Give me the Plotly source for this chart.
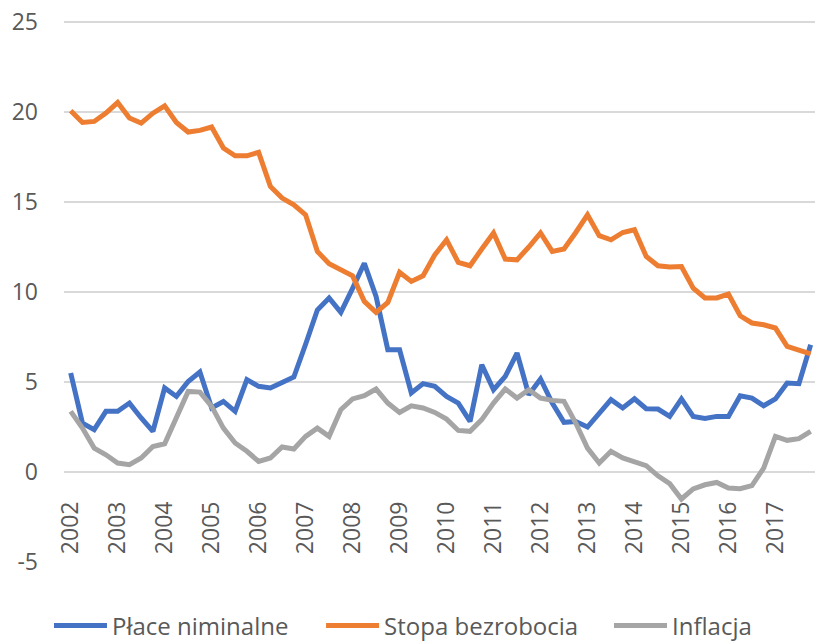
import plotly.graph_objects as go

years = [str(y) for y in range(2002, 2018)]
quarters = list(range(64))

place_nominalne = [5.5, 2.72, 2.35, 3.37, 3.37, 3.83, 3.0, 2.26,
                   4.67, 4.2, 5.03, 5.56, 3.56, 3.92, 3.37, 5.13,
                   4.76, 4.67, 4.98, 5.28, 7.1, 9.0, 9.67, 8.87,
                   10.2, 11.6, 9.76, 6.79, 6.79, 4.39, 4.91, 4.76,
                   4.2, 3.83, 2.81, 5.96, 4.57, 5.31, 6.61, 4.29,
                   5.17, 3.83, 2.76, 2.81, 2.5, 3.24, 4.02, 3.56,
                   4.07, 3.52, 3.5, 3.09, 4.06, 3.09, 2.98, 3.09,
                   3.09, 4.24, 4.11, 3.68, 4.06, 4.94, 4.91, 7.07]

stopa_bezrobocia = [20.07, 19.42, 19.48, 19.94, 20.53, 19.67, 19.39, 19.94,
                    20.35, 19.42, 18.89, 18.98, 19.17, 18.0, 17.57, 17.57,
                    17.76, 15.87, 15.22, 14.85, 14.29, 12.26, 11.57, 11.2,
                    10.9, 9.48, 8.87, 9.42, 11.1, 10.59, 10.9, 12.07,
                    12.9, 11.65, 11.46, 12.39, 13.28, 11.83, 11.79, 12.5,
                    13.28, 12.26, 12.39, 13.31, 14.29, 13.13, 12.9, 13.31,
                    13.46, 11.98, 11.46, 11.39, 11.42, 10.22, 9.67, 9.67,
                    9.89, 8.68, 8.28, 8.18, 8.0, 6.98, 6.76, 6.57]

inflacja = [3.37, 2.44, 1.33, 0.96, 0.5, 0.41, 0.78, 1.42,
            1.57, 3.09, 4.48, 4.44, 3.65, 2.44, 1.61, 1.15,
            0.59, 0.78, 1.39, 1.28, 1.98, 2.44, 1.98, 3.46,
            4.06, 4.24, 4.61, 3.83, 3.31, 3.68, 3.56, 3.31,
            2.94, 2.31, 2.26, 2.91, 3.83, 4.61, 4.11, 4.57,
            4.11, 3.98, 3.93, 2.72, 1.33, 0.5, 1.15, 0.78,
            0.59, 0.35, -0.21, -0.65, -1.5, -0.94, -0.71, -0.58,
            -0.89, -0.93, -0.76, 0.22, 1.98, 1.76, 1.85, 2.26]

tick_positions = quarters[::4]
y_ticks = [-5, 0, 5, 10, 15, 20, 25]
y_ticktext = ["-5", "0", "5", "10", "15", "20", "25"]

series = [
    ("Płace niminalne", place_nominalne, "#4472C4", "legend", -0.020),
    ("Stopa bezrobocia", stopa_bezrobocia, "#ED7D31", "legend2", 0.3423),
    ("Inflacja", inflacja, "#A5A5A5", "legend3", 0.7257),
]

FONT = "Open Sans"
TXT = "#595959"

fig = go.Figure()
legend_layouts = {}
for name, vals, color, leg, lx in series:
    fig.add_trace(go.Scatter(x=quarters, y=vals, mode="lines", name=name,
                             line=dict(color=color, width=5), legend=leg))
    legend_layouts[leg] = dict(orientation="h", x=lx, xanchor="left",
                               y=-0.1183, yanchor="middle",
                               font=dict(family=FONT, size=24, color=TXT),
                               itemwidth=53, bgcolor="rgba(0,0,0,0)")

fig.update_layout(
    width=815, height=643,
    margin=dict(l=64, r=0, t=21, b=81, autoexpand=False),
    plot_bgcolor="white", paper_bgcolor="white",
    font=dict(family=FONT, size=23, color=TXT),
    showlegend=True,
    xaxis=dict(range=[-0.57, 63.37], showgrid=False, zeroline=False, showline=False,
               tickmode="array", tickvals=tick_positions, ticktext=years,
               tickangle=-90, ticks="", anchor="free", position=5.06/30.06,
               ticklabelstandoff=25,
               tickfont=dict(family=FONT, size=23, color=TXT)),
    yaxis=dict(range=[-5, 25.06], tickmode="array", tickvals=y_ticks, ticktext=y_ticktext,
               showgrid=True, gridcolor="#D9D9D9", gridwidth=2,
               zeroline=True, zerolinecolor="#D9D9D9", zerolinewidth=2,
               showline=False, ticks="", ticklabelstandoff=25,
               ticklabeloverflow="allow",
               tickfont=dict(family=FONT, size=23, color=TXT)),
    **legend_layouts,
)

# remove the default 8px page margin so the figure fills the window exactly
fig.write_html("out.html", config={"displayModeBar": False},
               post_script="document.body.style.margin='0px';")
